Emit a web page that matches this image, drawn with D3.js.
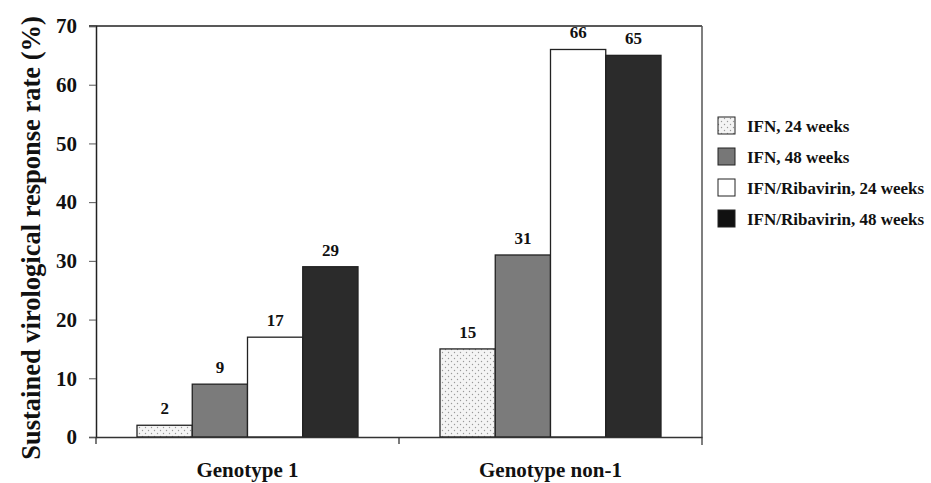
<!DOCTYPE html>
<html><head><meta charset="utf-8">
<script src="https://cdn.jsdelivr.net/npm/d3@7"></script>
<style>body{margin:0;background:#fff}svg{display:block}text{font-family:"Liberation Serif","DejaVu Serif",serif !important;font-weight:bold;fill:#111}</style>
</head><body><svg id="c" width="931" height="483"></svg>
<script>
const categories = ["Genotype 1", "Genotype non-1"];
const seriesNames = ["IFN, 24 weeks", "IFN, 48 weeks", "IFN/Ribavirin, 24 weeks", "IFN/Ribavirin, 48 weeks"];
const ifn24 = [2, 15];
const ifn48 = [9, 31];
const ribav24 = [17, 66];
const ribav48 = [29, 65];
const yTicks = [0, 10, 20, 30, 40, 50, 60, 70];
const seriesValues = [ifn24, ifn48, ribav24, ribav48];

(function(){
const svg = d3.select("#c");
const defs = svg.append("defs");
const dots = defs.append("pattern").attr("id","dots").attr("patternUnits","userSpaceOnUse").attr("width",6).attr("height",6);
dots.append("rect").attr("width",6).attr("height",6).attr("fill","#f4f4f4");
dots.append("circle").attr("cx",1.5).attr("cy",1.5).attr("r",0.7).attr("fill","#999");
dots.append("circle").attr("cx",4.5).attr("cy",4.5).attr("r",0.7).attr("fill","#999");

const fills = ["url(#dots)", "#7b7b7b", "#ffffff", "#2b2b2b"];
const legendFills = ["url(#dots)", "#777", "#ffffff", "#111"];

const mLeft = 96, mRight = 702, mTop = 26, mBottom = 437;
const x0 = d3.scaleBand().domain(categories).range([mLeft, mRight]).paddingInner(0).paddingOuter(0);
const x1 = d3.scaleBand().domain(seriesNames).range([41, x0.bandwidth() - 41]).padding(0);
const y = d3.scaleLinear().domain([0, 70]).range([mBottom, mTop]);

svg.append("line").attr("x1", mLeft-7).attr("x2", mRight).attr("y1", mTop).attr("y2", mTop).attr("stroke","#222").attr("stroke-width",1.5);
svg.append("line").attr("x1", mRight).attr("x2", mRight).attr("y1", mTop).attr("y2", mBottom+8).attr("stroke","#555").attr("stroke-width",1.5);

const g = svg.append("g");
categories.forEach((c, ci) => {
  seriesNames.forEach((s, si) => {
    const v = seriesValues[si][ci];
    const bx = x0(c) + x1(s);
    g.append("rect").attr("x", bx).attr("y", y(v)).attr("width", x1.bandwidth()).attr("height", y(0)-y(v))
      .attr("fill", fills[si]).attr("stroke","#222").attr("stroke-width",1.3);
    g.append("text").attr("x", bx + x1.bandwidth()/2).attr("y", y(v) - 11).attr("text-anchor","middle")
      .attr("font-size", 17).text(v);
  });
});

const ya = svg.append("g").attr("transform", `translate(${mLeft},0)`)
  .call(d3.axisLeft(y).tickValues(yTicks).tickSize(7).tickPadding(12).tickFormat(d3.format("d")));
ya.select(".domain").attr("stroke","#222").attr("stroke-width",1.5);
ya.selectAll(".tick line").attr("stroke","#555").attr("stroke-width",1);
ya.selectAll("text").attr("font-size",21).attr("fill","#111");

const xa = svg.append("g").attr("transform", `translate(0,${mBottom})`)
  .call(d3.axisBottom(x0).tickSize(0).tickPadding(25));
xa.select(".domain").attr("stroke","#333").attr("stroke-width",1.5);
xa.selectAll("text").attr("font-size",21).attr("fill","#111");
[mLeft, x0.range()[0] + x0.bandwidth()].forEach(t => {
  svg.append("line").attr("x1", t).attr("x2", t).attr("y1", mBottom).attr("y2", mBottom+7).attr("stroke","#333").attr("stroke-width",1.3);
});

svg.append("text").attr("transform", `translate(40,238) rotate(-90)`).attr("text-anchor","middle")
  .attr("font-size", 26.5).text("Sustained virological response rate (%)");

const lg = svg.append("g");
seriesNames.forEach((s, i) => {
  const ly = 126 + i*31;
  lg.append("rect").attr("x", 718).attr("y", ly-9).attr("width",17).attr("height",17)
    .attr("fill", legendFills[i]).attr("stroke","#222").attr("stroke-width",1);
  lg.append("text").attr("x", 747).attr("y", ly+6).attr("font-size",17).text(s);
});
})();
</script></body></html>
